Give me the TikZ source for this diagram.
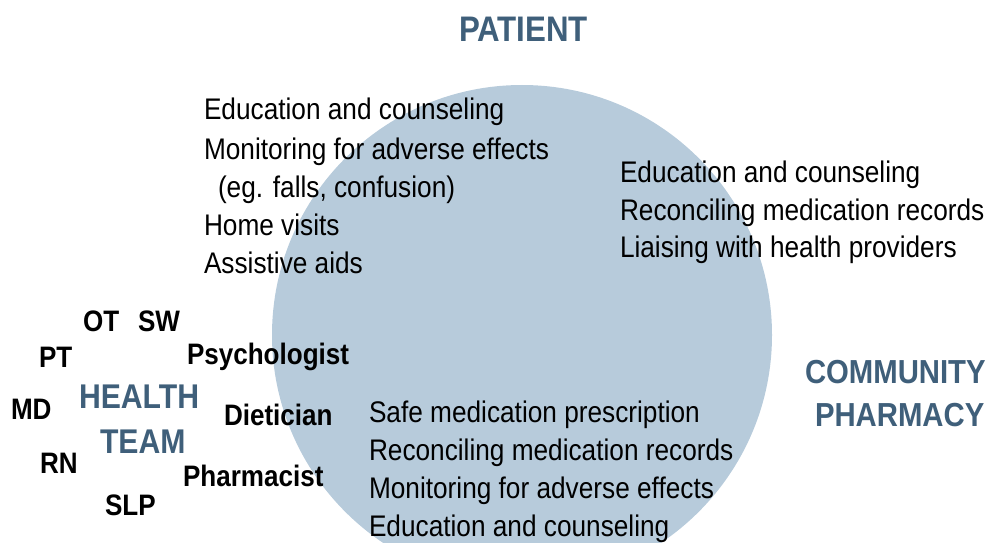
\documentclass[tikz,border=0pt]{standalone}
\usepackage{fontspec}
\setmainfont{Liberation Sans}[FakeStretch=0.88]
\definecolor{discfill}{HTML}{B7CBDB}
\definecolor{headblue}{HTML}{3F5F7A}
\begin{document}
\begin{tikzpicture}[x=1pt,y=-1pt,
  every node/.style={inner sep=0pt,outer sep=0pt,anchor=base west},
  item/.style={font=\fontsize{29.8}{36}\selectfont},
  role/.style={font=\fontsize{29.6}{36}\selectfont\bfseries},
  head/.style={font=\fontsize{35.5}{42}\selectfont\bfseries,text=headblue},
  subhead/.style={font=\fontsize{33.3}{40}\selectfont\bfseries,text=headblue},
  teamhead/.style={font=\fontsize{34.3}{40}\selectfont\bfseries,text=headblue}]
\useasboundingbox (0,0) rectangle (994,543);
\clip (0,0) rectangle (994,543);
% shared disc
\fill[discfill] (522,335) circle (250);
% headings
\node[head] (patient) at (459,42) {PATIENT};
\node[subhead] (comm) at (805,383) {COMMUNITY};
\node[subhead] (pharm) at (815,426) {PHARMACY};
\node[teamhead] (health) at (79,408) {HEALTH};
\node[teamhead] (team) at (100,453) {TEAM};
% patient-side services
\node[item] (p1) at (204,120) {Education and counseling};
\node[item] (p2) at (204,159) {Monitoring for adverse effects};
\node[item] (p3) at (218,197) {(eg. falls, confusion)};
\node[item] (p4) at (204,235) {Home visits};
\node[item] (p5) at (204,273) {Assistive aids};
% pharmacy-side services
\node[item] (c1) at (620,182) {Education and counseling};
\node[item] (c2) at (620,220) {Reconciling medication records};
\node[item] (c3) at (620,257) {Liaising with health providers};
% team-side services
\node[item] (t1) at (369,422) {Safe medication prescription};
\node[item] (t2) at (369,460) {Reconciling medication records};
\node[item] (t3) at (369,498) {Monitoring for adverse effects};
\node[item] (t4) at (369,536) {Education and counseling};
% team members
\node[role] (ot) at (83,331) {OT};
\node[role] (sw) at (138,331) {SW};
\node[role] (pt) at (39,367) {PT};
\node[role] (psy) at (187,364) {Psychologist};
\node[role] (md) at (11,419) {MD};
\node[role] (diet) at (224,425) {Dietician};
\node[role] (rn) at (40,473) {RN};
\node[role] (pharmacist) at (183,486) {Pharmacist};
\node[role] (slp) at (105,515) {SLP};
\end{tikzpicture}
\end{document}
